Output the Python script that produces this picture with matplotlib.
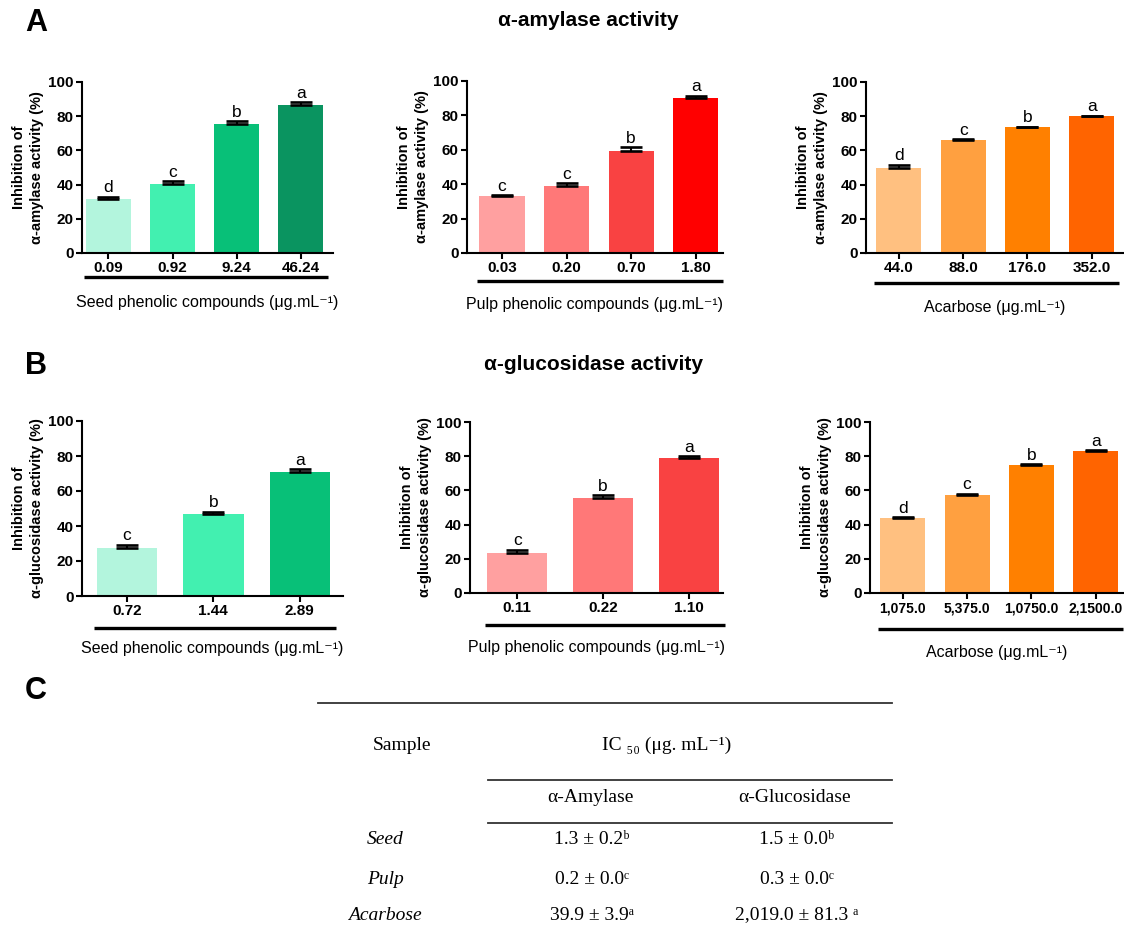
import numpy as np
import matplotlib.pyplot as plt
import matplotlib.transforms as mtransforms
from matplotlib.lines import Line2D

plt.rcParams['font.family'] = ['Liberation Sans', 'DejaVu Sans']

# ---- data ----
seed_amy_doses = ['0.09', '0.92', '9.24', '46.24']
seed_amy_vals = [31.6, 40.2, 75.3, 86.4]
seed_amy_err = [1.3, 1.9, 1.9, 1.7]
seed_amy_letters = ['d', 'c', 'b', 'a']

pulp_amy_doses = ['0.03', '0.20', '0.70', '1.80']
pulp_amy_vals = [32.9, 39.1, 59.3, 90.1]
pulp_amy_err = [0.7, 1.6, 2.3, 1.3]
pulp_amy_letters = ['c', 'c', 'b', 'a']

acar_amy_doses = ['44.0', '88.0', '176.0', '352.0']
acar_amy_vals = [49.9, 65.9, 73.4, 79.9]
acar_amy_err = [1.7, 0.7, 0.4, 0.5]
acar_amy_letters = ['d', 'c', 'b', 'a']

seed_glu_doses = ['0.72', '1.44', '2.89']
seed_glu_vals = [27.4, 47.0, 70.8]
seed_glu_err = [2.0, 1.2, 1.6]
seed_glu_letters = ['c', 'b', 'a']

pulp_glu_doses = ['0.11', '0.22', '1.10']
pulp_glu_vals = [23.4, 55.4, 79.1]
pulp_glu_err = [1.9, 1.9, 1.0]
pulp_glu_letters = ['c', 'b', 'a']

acar_glu_doses = ['1,075.0', '5,375.0', '1,0750.0', '2,1500.0']
acar_glu_vals = [43.7, 57.5, 74.7, 83.0]
acar_glu_err = [0.5, 0.6, 0.5, 0.4]
acar_glu_letters = ['d', 'c', 'b', 'a']

green = ['#b3f5dd', '#42f0b0', '#08c078', '#0a9460']
red = ['#ffa0a0', '#ff7878', '#f94242', '#ff0000']
orange = ['#ffc080', '#ffa040', '#ff8000', '#ff6400']

table_samples = ['Seed', 'Pulp', 'Acarbose']
table_amylase = ['1.3 ± 0.2ᵇ', '0.2 ± 0.0ᶜ', '39.9 ± 3.9ᵃ']
table_glucosidase = ['1.5 ± 0.0ᵇ', '0.3 ± 0.0ᶜ', '2,019.0 ± 81.3 ᵃ']

W, H = 1124, 936
fig = plt.figure(figsize=(W / 100, H / 100), dpi=100)


def px_axes(left, top, right, bottom):
    return fig.add_axes([left / W, 1 - bottom / H, (right - left) / W, (bottom - top) / H])


def draw_panel(rect, doses, vals, errs, letters, colors, ylabel, xlabel,
               xlim, under_y, xlab_y, xtick_size=11):
    ax = px_axes(*rect)
    x = np.arange(len(vals))
    ax.bar(x, vals, width=0.7, color=colors, zorder=2)
    ax.errorbar(x, vals, yerr=[np.zeros(len(errs)), errs], fmt='none',
                ecolor='black', elinewidth=1.5, capsize=8, capthick=1.9, zorder=3)
    for xi, v, e, l in zip(x, vals, errs, letters):
        ax.text(xi, v + e + 0.8, l, ha='center', va='bottom', fontsize=12.5)
    ax.set_ylim(0, 100)
    ax.set_xlim(*xlim)
    ax.set_yticks(range(0, 101, 20))
    ax.set_xticks(x)
    ax.set_xticklabels(doses, fontweight='bold', fontsize=xtick_size)
    for lab in ax.get_yticklabels():
        lab.set_fontweight('bold')
        lab.set_fontsize(11)
    ax.tick_params(axis='both', width=1.5, length=4, pad=2)
    for s in ['top', 'right']:
        ax.spines[s].set_visible(False)
    for s in ['left', 'bottom']:
        ax.spines[s].set_linewidth(1.5)
    ax.set_ylabel(ylabel, fontweight='bold', fontsize=10.5, labelpad=3,
                  linespacing=1.4)
    trans = mtransforms.blended_transform_factory(ax.transData, ax.transAxes)
    ax.plot([x[0] - 0.38, x[-1] + 0.42], [under_y, under_y], transform=trans,
            color='black', lw=2.4, clip_on=False, solid_capstyle='butt')
    ax.text(0.5, xlab_y, xlabel, transform=ax.transAxes, ha='center',
            va='center', fontsize=11.5)
    return ax


amy_ylab = 'Inhibition of\nα-amylase activity (%)'
glu_ylab = 'Inhibition of\nα-glucosidase activity (%)'
seed_xlab = 'Seed phenolic compounds (μg.mL⁻¹)'
pulp_xlab = 'Pulp phenolic compounds (μg.mL⁻¹)'
acar_xlab = 'Acarbose (μg.mL⁻¹)'

draw_panel((82, 82, 333, 253), seed_amy_doses, seed_amy_vals, seed_amy_err,
           seed_amy_letters, green, amy_ylab, seed_xlab, (-0.41, 3.5), -0.14, -0.29)
draw_panel((467, 81, 723, 253), pulp_amy_doses, pulp_amy_vals, pulp_amy_err,
           pulp_amy_letters, red, amy_ylab, pulp_xlab, (-0.54, 3.42), -0.16, -0.3)
draw_panel((866, 82, 1124, 253), acar_amy_doses, acar_amy_vals, acar_amy_err,
           acar_amy_letters, orange, amy_ylab, acar_xlab, (-0.51, 3.5), -0.175, -0.32)

draw_panel((82, 421, 343, 596), seed_glu_doses, seed_glu_vals, seed_glu_err,
           seed_glu_letters, green[:3], glu_ylab, seed_xlab, (-0.52, 2.5), -0.18, -0.30)
draw_panel((470, 422, 723, 593), pulp_glu_doses, pulp_glu_vals, pulp_glu_err,
           pulp_glu_letters, red[:3], glu_ylab, pulp_xlab, (-0.55, 2.4), -0.19, -0.32)
draw_panel((870, 422, 1124, 593), acar_glu_doses, acar_glu_vals, acar_glu_err,
           acar_glu_letters, orange, glu_ylab, acar_xlab, (-0.51, 3.44), -0.21, -0.35,
           xtick_size=10)

# panel letters and titles
fig.text(36 / W, 1 - 23 / H, 'A', fontsize=22, fontweight='bold', ha='center', va='center')
fig.text(36 / W, 1 - 366 / H, 'B', fontsize=22, fontweight='bold', ha='center', va='center')
fig.text(36 / W, 1 - 691 / H, 'C', fontsize=22, fontweight='bold', ha='center', va='center')
fig.text(588 / W, 1 - 20 / H, 'α-amylase activity', fontsize=15, fontweight='bold',
         ha='center', va='center')
fig.text(594 / W, 1 - 365 / H, 'α-glucosidase activity', fontsize=15, fontweight='bold',
         ha='center', va='center')

# table C
serif = ['Liberation Serif', 'DejaVu Serif']
tsize = 14


def hline(x0, x1, y, lw=1.3):
    fig.add_artist(Line2D([x0 / W, x1 / W], [1 - y / H, 1 - y / H],
                          transform=fig.transFigure, color='#333333', lw=lw))


hline(318, 892, 703)
hline(488, 892, 780)
hline(488, 892, 823)

fig.text(402 / W, 1 - 745 / H, 'Sample', family=serif, fontsize=tsize, ha='center', va='center')
fig.text(667 / W, 1 - 745 / H, 'IC ₅₀ (μg. mL⁻¹)', family=serif, fontsize=tsize,
         ha='center', va='center')
fig.text(590 / W, 1 - 797 / H, 'α-Amylase', family=serif, fontsize=tsize, ha='center', va='center')
fig.text(795 / W, 1 - 797 / H, 'α-Glucosidase', family=serif, fontsize=tsize, ha='center', va='center')

row_y = [840, 879, 915]
for y, s, a, g in zip(row_y, table_samples, table_amylase, table_glucosidase):
    fig.text(385 / W, 1 - y / H, s, family=serif, fontsize=tsize, style='italic',
             ha='center', va='center')
    fig.text(592 / W, 1 - y / H, a, family=serif, fontsize=tsize, ha='center', va='center')
    fig.text(797 / W, 1 - y / H, g, family=serif, fontsize=tsize, ha='center', va='center')

fig.savefig('out.png', dpi=100)
